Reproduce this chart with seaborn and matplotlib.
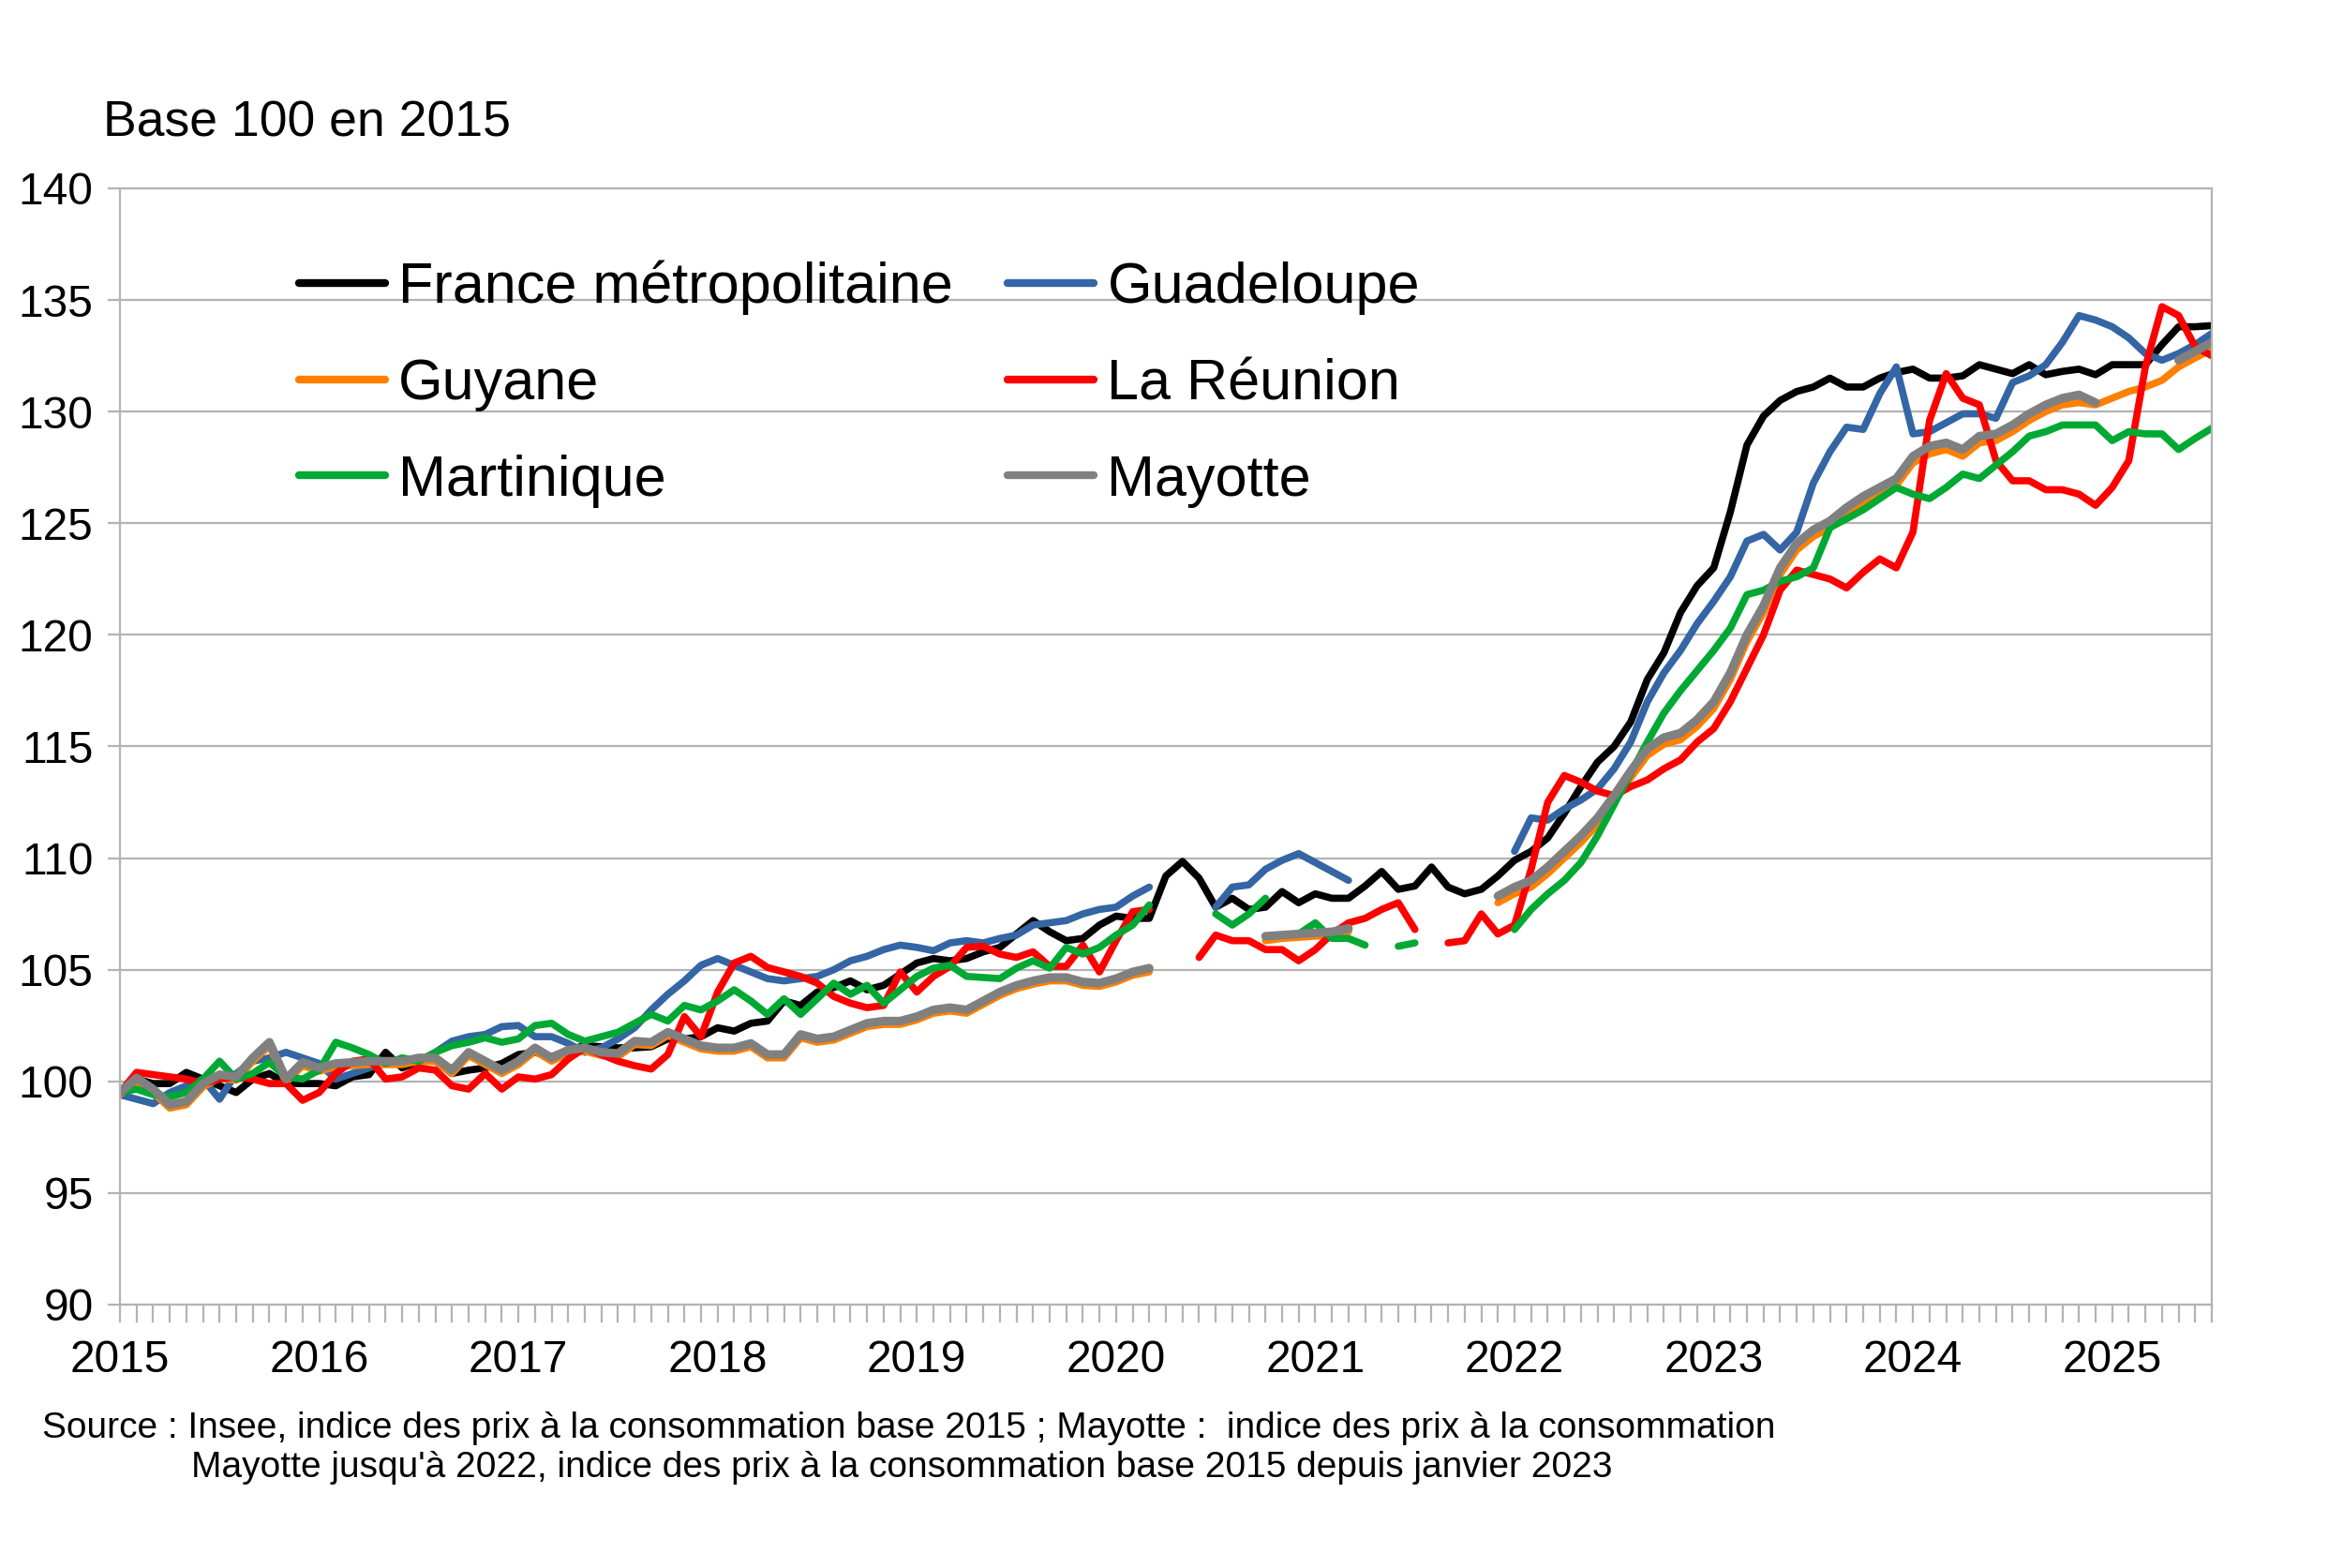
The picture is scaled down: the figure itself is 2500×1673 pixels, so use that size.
# Indices des prix à la consommation - base 100 en 2015
import numpy as np
import pandas as pd
import seaborn as sns
import matplotlib.pyplot as plt
from matplotlib.lines import Line2D

nan = np.nan

# %% data : monthly values, Jan 2015 -> Jul 2025 (127 months)

dates = pd.date_range("2015-01-01", "2025-07-01", freq="MS")

france = [
    99.5, 100.1, 99.9, 99.9, 100.4, 100.1, 99.8, 99.5, 100.1, 100.35, 99.9, 99.9,
    99.9, 99.8, 100.2, 100.3, 101.3, 100.6, 100.9, 100.9, 100.35, 100.5, 100.6, 100.8,
    101.2, 101.3, 101.1, 101.4, 101.6, 101.55, 101.5, 101.5, 101.55, 101.9, 101.9, 102.0,
    102.4, 102.25, 102.6, 102.7, 103.6, 103.4, 104.0, 104.2, 104.5, 104.1, 104.3, 104.8,
    105.3, 105.5, 105.4, 105.5, 105.8, 106.0, 106.6, 107.2, 106.7, 106.3, 106.4, 107.0,
    107.4, 107.3, 107.3, 109.2, 109.85, 109.1, 107.8, 108.2, 107.7, 107.8, 108.5, 108.0,
    108.4, 108.2, 108.2, 108.75, 109.4, 108.6, 108.75, 109.6, 108.7, 108.4, 108.6, 109.2,
    109.9, 110.3, 110.9, 112.0, 113.2, 114.3, 115.0, 116.1, 118.0, 119.2, 121.0, 122.2,
    123.0, 125.5, 128.5, 129.8, 130.5, 130.9, 131.1, 131.5, 131.1, 131.1, 131.5, 131.75,
    131.9, 131.5, 131.5, 131.6, 132.1, 131.9, 131.7, 132.1, 131.65, 131.8, 131.9, 131.65,
    132.1, 132.1, 132.1, 133.0, 133.8, 133.8, 133.85,
]

guadeloupe = [
    99.4, 99.2, 99.0, 99.5, 99.8, 100.1, 99.2, 100.35, 100.9, 101.05, 101.3, 101.05,
    100.8, 100.1, 100.35, 100.6, 100.8, 100.9, 100.9, 101.3, 101.8, 102.0, 102.1, 102.45,
    102.5, 102.0, 102.0, 101.7, 101.3, 101.5, 101.9, 102.4, 103.2, 103.9, 104.5, 105.2,
    105.5, 105.2, 104.9, 104.6, 104.5, 104.6, 104.7, 105.0, 105.4, 105.6, 105.9, 106.1,
    106.0, 105.85, 106.2, 106.3, 106.2, 106.4, 106.55, 107.0, 107.1, 107.2, 107.5, 107.7,
    107.8, 108.3, 108.7, nan, nan, nan, 107.8, 108.7, 108.8, 109.5, 109.9, 110.2,
    109.8, 109.4, 109.0, nan, nan, nan, nan, nan, nan, nan, nan, nan,
    110.3, 111.8, 111.7, 112.2, 112.6, 113.1, 114.0, 115.2, 117.0, 118.3, 119.3, 120.5,
    121.5, 122.6, 124.2, 124.5, 123.8, 124.6, 126.8, 128.2, 129.3, 129.2, 130.8, 132.0,
    129.0, 129.1, 129.5, 129.9, 129.9, 129.7, 131.3, 131.6, 132.1, 133.1, 134.3, 134.1,
    133.8, 133.3, 132.6, 132.3, 132.6, 133.0, 133.5,
]

guyane = [
    99.4, 100.0, 99.5, 98.8, 98.95, 99.75, 100.15, 100.05, 100.9, 101.6, 99.95, 100.7,
    100.45, 100.65, 100.7, 100.75, 100.75, 100.75, 100.9, 100.9, 100.35, 101.15, 100.75, 100.35,
    100.75, 101.35, 100.9, 101.25, 101.35, 101.15, 101.1, 101.65, 101.6, 102.05, 101.75, 101.45,
    101.35, 101.35, 101.55, 101.05, 101.05, 101.95, 101.75, 101.85, 102.15, 102.45, 102.55, 102.55,
    102.75, 103.05, 103.15, 103.05, 103.45, 103.85, 104.15, 104.35, 104.5, 104.5, 104.3, 104.25,
    104.45, 104.75, 104.9, nan, nan, nan, nan, nan, nan, 106.3, 106.4, 106.45,
    106.5, 106.55, 106.7, nan, nan, nan, nan, nan, nan, nan, nan, 108.0,
    108.4, 108.7, 109.3, 110.0, 110.7, 111.5, 112.5, 113.6, 114.6, 115.1, 115.3, 115.9,
    116.7, 118.0, 119.7, 121.0, 122.7, 123.8, 124.4, 124.8, 125.4, 125.9, 126.3, 126.7,
    127.7, 128.1, 128.3, 128.0, 128.6, 128.7, 129.1, 129.6, 130.0, 130.3, 130.4, 130.3,
    130.6, 130.9, 131.1, 131.4, 132.0, 132.4, 132.8,
]

reunion = [
    99.5, 100.4, 100.3, 100.2, 100.1, 99.9, 100.1, 100.2, 100.1, 99.9, 99.9, 99.15,
    99.5, 100.35, 100.9, 101.0, 100.1, 100.2, 100.6, 100.5, 99.8, 99.65, 100.35, 99.65,
    100.2, 100.1, 100.3, 101.0, 101.5, 101.2, 100.9, 100.7, 100.55, 101.2, 102.9, 102.0,
    104.0, 105.3, 105.6, 105.1, 104.9, 104.7, 104.4, 103.8, 103.5, 103.3, 103.4, 104.9,
    104.0, 104.7, 105.15, 106.0, 106.05, 105.7, 105.55, 105.8, 105.15, 105.15, 106.1, 104.9,
    106.3, 107.6, 107.7, nan, nan, 105.55, 106.55, 106.3, 106.3, 105.9, 105.9, 105.4,
    105.9, 106.6, 107.1, 107.3, 107.7, 108.0, 106.8, nan, 106.2, 106.3, 107.5, 106.6,
    107.0, 109.5, 112.5, 113.7, 113.4, 113.0, 112.8, 113.2, 113.5, 114.0, 114.4, 115.2,
    115.8, 117.0, 118.5, 120.0, 122.0, 122.9, 122.7, 122.5, 122.1, 122.8, 123.4, 123.0,
    124.6, 129.6, 131.7, 130.6, 130.3, 127.8, 126.9, 126.9, 126.5, 126.5, 126.3, 125.8,
    126.6, 127.8, 132.0, 134.7, 134.3, 132.9, 132.5,
]

martinique = [
    99.5, 99.65, 99.4, 99.3, 99.5, 100.1, 100.9, 100.1, 100.35, 100.85, 100.2, 100.1,
    100.5, 101.75, 101.5, 101.2, 100.8, 101.05, 100.9, 101.3, 101.6, 101.75, 101.95, 101.75,
    101.9, 102.5, 102.6, 102.1, 101.8, 102.0, 102.2, 102.6, 103.0, 102.7, 103.4, 103.2,
    103.6, 104.1, 103.6, 103.0, 103.7, 103.0, 103.7, 104.4, 103.9, 104.3, 103.5, 104.1,
    104.7, 105.07, 105.2, 104.7, 104.65, 104.6, 105.07, 105.4, 105.07, 106.0, 105.7, 106.0,
    106.55, 107.0, 107.9, nan, nan, nan, 107.5, 107.0, 107.5, 108.2, nan, 106.6,
    107.1, 106.4, 106.4, 106.1, nan, 106.05, 106.2, nan, nan, nan, nan, nan,
    106.8, 107.7, 108.4, 109.0, 109.8, 111.0, 112.4, 113.8, 115.2, 116.5, 117.5, 118.4,
    119.3, 120.3, 121.8, 122.0, 122.4, 122.6, 123.0, 124.8, 125.2, 125.6, 126.1, 126.6,
    126.3, 126.1, 126.6, 127.2, 127.0, 127.6, 128.2, 128.9, 129.1, 129.4, 129.4, 129.4,
    128.7, 129.1, 129.0, 129.0, 128.3, 128.8, 129.25,
]

mayotte = [
    99.5, 100.15, 99.65, 98.95, 99.1, 99.9, 100.3, 100.2, 101.05, 101.75, 100.1, 100.85,
    100.6, 100.8, 100.85, 100.9, 100.9, 100.9, 101.05, 101.05, 100.5, 101.3, 100.9, 100.5,
    100.9, 101.5, 101.05, 101.4, 101.5, 101.3, 101.25, 101.8, 101.75, 102.2, 101.9, 101.6,
    101.5, 101.5, 101.7, 101.2, 101.2, 102.1, 101.9, 102.0, 102.3, 102.6, 102.7, 102.7,
    102.9, 103.2, 103.3, 103.2, 103.6, 104.0, 104.3, 104.5, 104.65, 104.65, 104.45, 104.4,
    104.6, 104.9, 105.07, nan, nan, nan, nan, nan, nan, 106.5, 106.55, 106.6,
    106.65, 106.7, 106.85, nan, nan, nan, nan, nan, nan, nan, nan, 108.3,
    108.7, 109.0, 109.6, 110.3, 111.0, 111.8, 112.8, 113.9, 114.9, 115.4, 115.6, 116.2,
    117.0, 118.3, 120.0, 121.3, 123.0, 124.1, 124.7, 125.1, 125.7, 126.2, 126.6, 127.0,
    128.0, 128.45, 128.6, 128.3, 128.9, 129.0, 129.4, 129.9, 130.3, 130.6, 130.75, 130.4,
    nan, nan, nan, nan, 132.3, 132.7, 133.1,
]

series_names = ["France métropolitaine", "Guadeloupe", "Guyane",
                "La Réunion", "Martinique", "Mayotte"]
series_values = [france, guadeloupe, guyane, reunion, martinique, mayotte]
series_colors = ["#000000", "#3465a4", "#ff8000", "#ff0000", "#00a933", "#808080"]
series_widths = [5.5, 5.5, 5.5, 5.5, 5.5, 6.6]

# decimal years for the x axis
t = dates.year + (dates.month - 1) / 12.0

# long table, one "segment" id per unbroken run so that gaps stay gaps
frames = []
for _name, _vals in zip(series_names, series_values):
    _v = np.asarray(_vals, dtype=float)
    frames.append(pd.DataFrame({
        "date": t,
        "indice": _v,
        "serie": _name,
        "segment": np.cumsum(np.isnan(_v)),
    }).dropna())
data = pd.concat(frames, ignore_index=True)


# %% plot

sns.set_theme(style="white")
plt.rcParams["font.family"] = ["Liberation Sans", "DejaVu Sans"]
plt.rcParams["text.color"] = "black"

fig = plt.figure(figsize=(25, 16.73), dpi=100)
ax = fig.add_axes([0.0512, 0.168, 0.8928, 0.7119])

for _name, _color, _lw in zip(series_names, series_colors, series_widths):
    sns.lineplot(
        data=data[data.serie == _name],
        x="date",
        y="indice",
        units="segment",
        estimator=None,
        color=_color,
        linewidth=_lw,
        legend=False,
        ax=ax,
    )

grey = "#b3b3b3"

# axes limits and ticks
ax.set_xlim(2015, 2025.5)
ax.set_ylim(90, 140)
ax.set_yticks(np.arange(90, 141, 5))
ax.set_xticks(np.arange(2015, 2026))
ax.set_xticklabels([str(y) for y in range(2015, 2026)])
ax.set_xticks(t, minor=True)
ax.set_xlabel("")
ax.set_ylabel("")

ax.yaxis.grid(True, color=grey, linewidth=1.6)
ax.xaxis.grid(False)
ax.set_axisbelow(True)
for _s in ax.spines.values():
    _s.set_color(grey)
    _s.set_linewidth(1.6)

ax.tick_params(axis="y", left=True, direction="out", length=9.5, width=1.6,
               color=grey, labelsize=34.5, pad=11, labelcolor="black")
ax.tick_params(axis="x", which="both", bottom=True, direction="out",
               length=13.5, width=1.6, color=grey)
ax.tick_params(axis="x", which="major", labelsize=34.5, pad=13,
               labelcolor="black")

# legend : two columns, filled row by row
order = [0, 2, 4, 1, 3, 5]
handles = [Line2D([], [], color=series_colors[i], linewidth=6) for i in order]
labels = [series_names[i] for i in order]
ax.legend(
    handles, labels,
    ncol=2,
    frameon=False,
    fontsize=44,
    handlelength=1.5,
    handletextpad=0.24,
    columnspacing=0.95,
    labelspacing=0.75,
    borderpad=0,
    borderaxespad=0,
    loc="upper left",
    bbox_to_anchor=(0.1276, 0.834),
    bbox_transform=fig.transFigure,
)

# texts
fig.text(110 / 2500, 1 - 131 / 1673, "Base 100 en 2015",
         fontsize=38.5, ha="left", va="center")
fig.text(45 / 2500, 1 - 1524 / 1673,
         "Source : Insee, indice des prix à la consommation base 2015 ; "
         "Mayotte :  indice des prix à la consommation",
         fontsize=28, ha="left", va="center")
fig.text(204 / 2500, 1 - 1566 / 1673,
         "Mayotte jusqu'à 2022, indice des prix à la consommation base 2015 "
         "depuis janvier 2023",
         fontsize=28, ha="left", va="center")

fig.savefig("out.png", dpi=100)
